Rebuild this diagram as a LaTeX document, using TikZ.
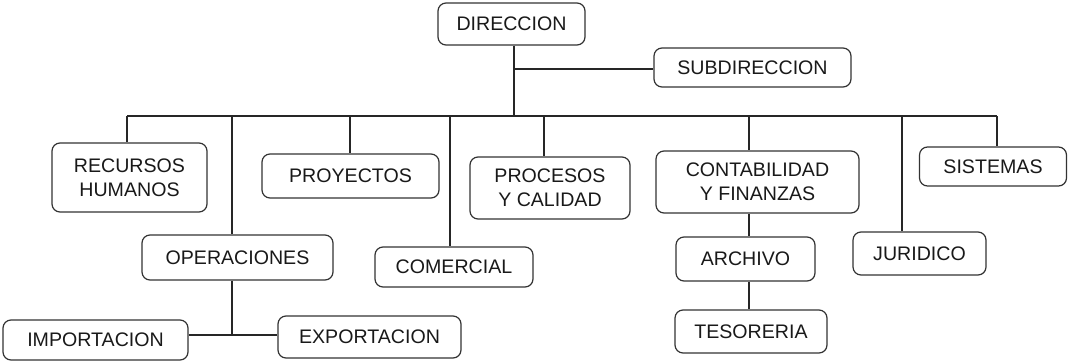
\documentclass[tikz,border=0pt]{standalone}
\usepackage{fontspec}
\setmainfont{Liberation Sans}
\begin{document}
\begin{tikzpicture}[x=1pt,y=-1pt,
  box/.style={draw=black!80, line width=1.2pt, rounded corners=8pt, fill=white,
    align=center, inner sep=0pt, text=black!90,
    font=\fontsize{19.6}{24}\selectfont},
  link/.style={draw=black!85, line width=1.1pt}]
\useasboundingbox (0,0) rectangle (1068,362);
% boxes
\node[box, minimum width=147pt, minimum height=42pt] (dir)  at (511.5,24)  {DIRECCION};
\node[box, minimum width=197pt, minimum height=39pt] (sub)  at (752.5,67.5) {SUBDIRECCION};
\node[box, minimum width=155pt, minimum height=69pt] (rh)   at (129.5,177.5) {RECURSOS\\HUMANOS};
\node[box, minimum width=177pt, minimum height=44pt] (proy) at (350.5,176) {PROYECTOS};
\node[box, minimum width=160pt, minimum height=62pt] (proc) at (550,188)   {PROCESOS\\Y CALIDAD};
\node[box, minimum width=203pt, minimum height=62pt] (cont) at (757.5,182) {CONTABILIDAD\\Y FINANZAS};
\node[box, minimum width=147pt, minimum height=39pt] (sis)  at (993,166.5) {SISTEMAS};
\node[box, minimum width=191pt, minimum height=45pt] (oper) at (237.5,257.5) {OPERACIONES};
\node[box, minimum width=158pt, minimum height=40pt] (com)  at (454,267)   {COMERCIAL};
\node[box, minimum width=139pt, minimum height=44pt] (arch) at (745.5,259) {ARCHIVO};
\node[box, minimum width=133pt, minimum height=43pt] (jur)  at (919.5,253.5) {JURIDICO};
\node[box, minimum width=185pt, minimum height=40pt] (imp)  at (95.5,340)  {IMPORTACION};
\node[box, minimum width=183pt, minimum height=42pt] (exp)  at (369.5,337) {EXPORTACION};
\node[box, minimum width=152pt, minimum height=43pt] (tes)  at (751,331.5) {TESORERIA};
% connector points
\coordinate (bar) at (514,116);
\coordinate (subj) at (514,69);
\coordinate (c1) at (127,116);
\coordinate (c2) at (232,116);
\coordinate (c3) at (350,116);
\coordinate (c4) at (450,116);
\coordinate (c5) at (544,116);
\coordinate (c6) at (749,116);
\coordinate (c7) at (902,116);
\coordinate (c8) at (997,116);
\coordinate (oj) at (232,335);
% connectors
\draw[link] (bar |- dir.south) -- (bar);
\draw[link] (subj) -- (subj -| sub.west);
\draw[link] (c1) -- (c8);
\draw[link] (c1) -- (c1 |- rh.north);
\draw[link] (c2) -- (c2 |- oper.north);
\draw[link] (c3) -- (c3 |- proy.north);
\draw[link] (c4) -- (c4 |- com.north);
\draw[link] (c5) -- (c5 |- proc.north);
\draw[link] (c6) -- (c6 |- cont.north);
\draw[link] (c7) -- (c7 |- jur.north);
\draw[link] (c8) -- (c8 |- sis.north);
\draw[link] (oj |- oper.south) -- (oj);
\draw[link] (oj -| imp.east) -- (oj -| exp.west);
\draw[link] (c6 |- cont.south) -- (c6 |- arch.north);
\draw[link] (c6 |- arch.south) -- (c6 |- tes.north);
\end{tikzpicture}
\end{document}
